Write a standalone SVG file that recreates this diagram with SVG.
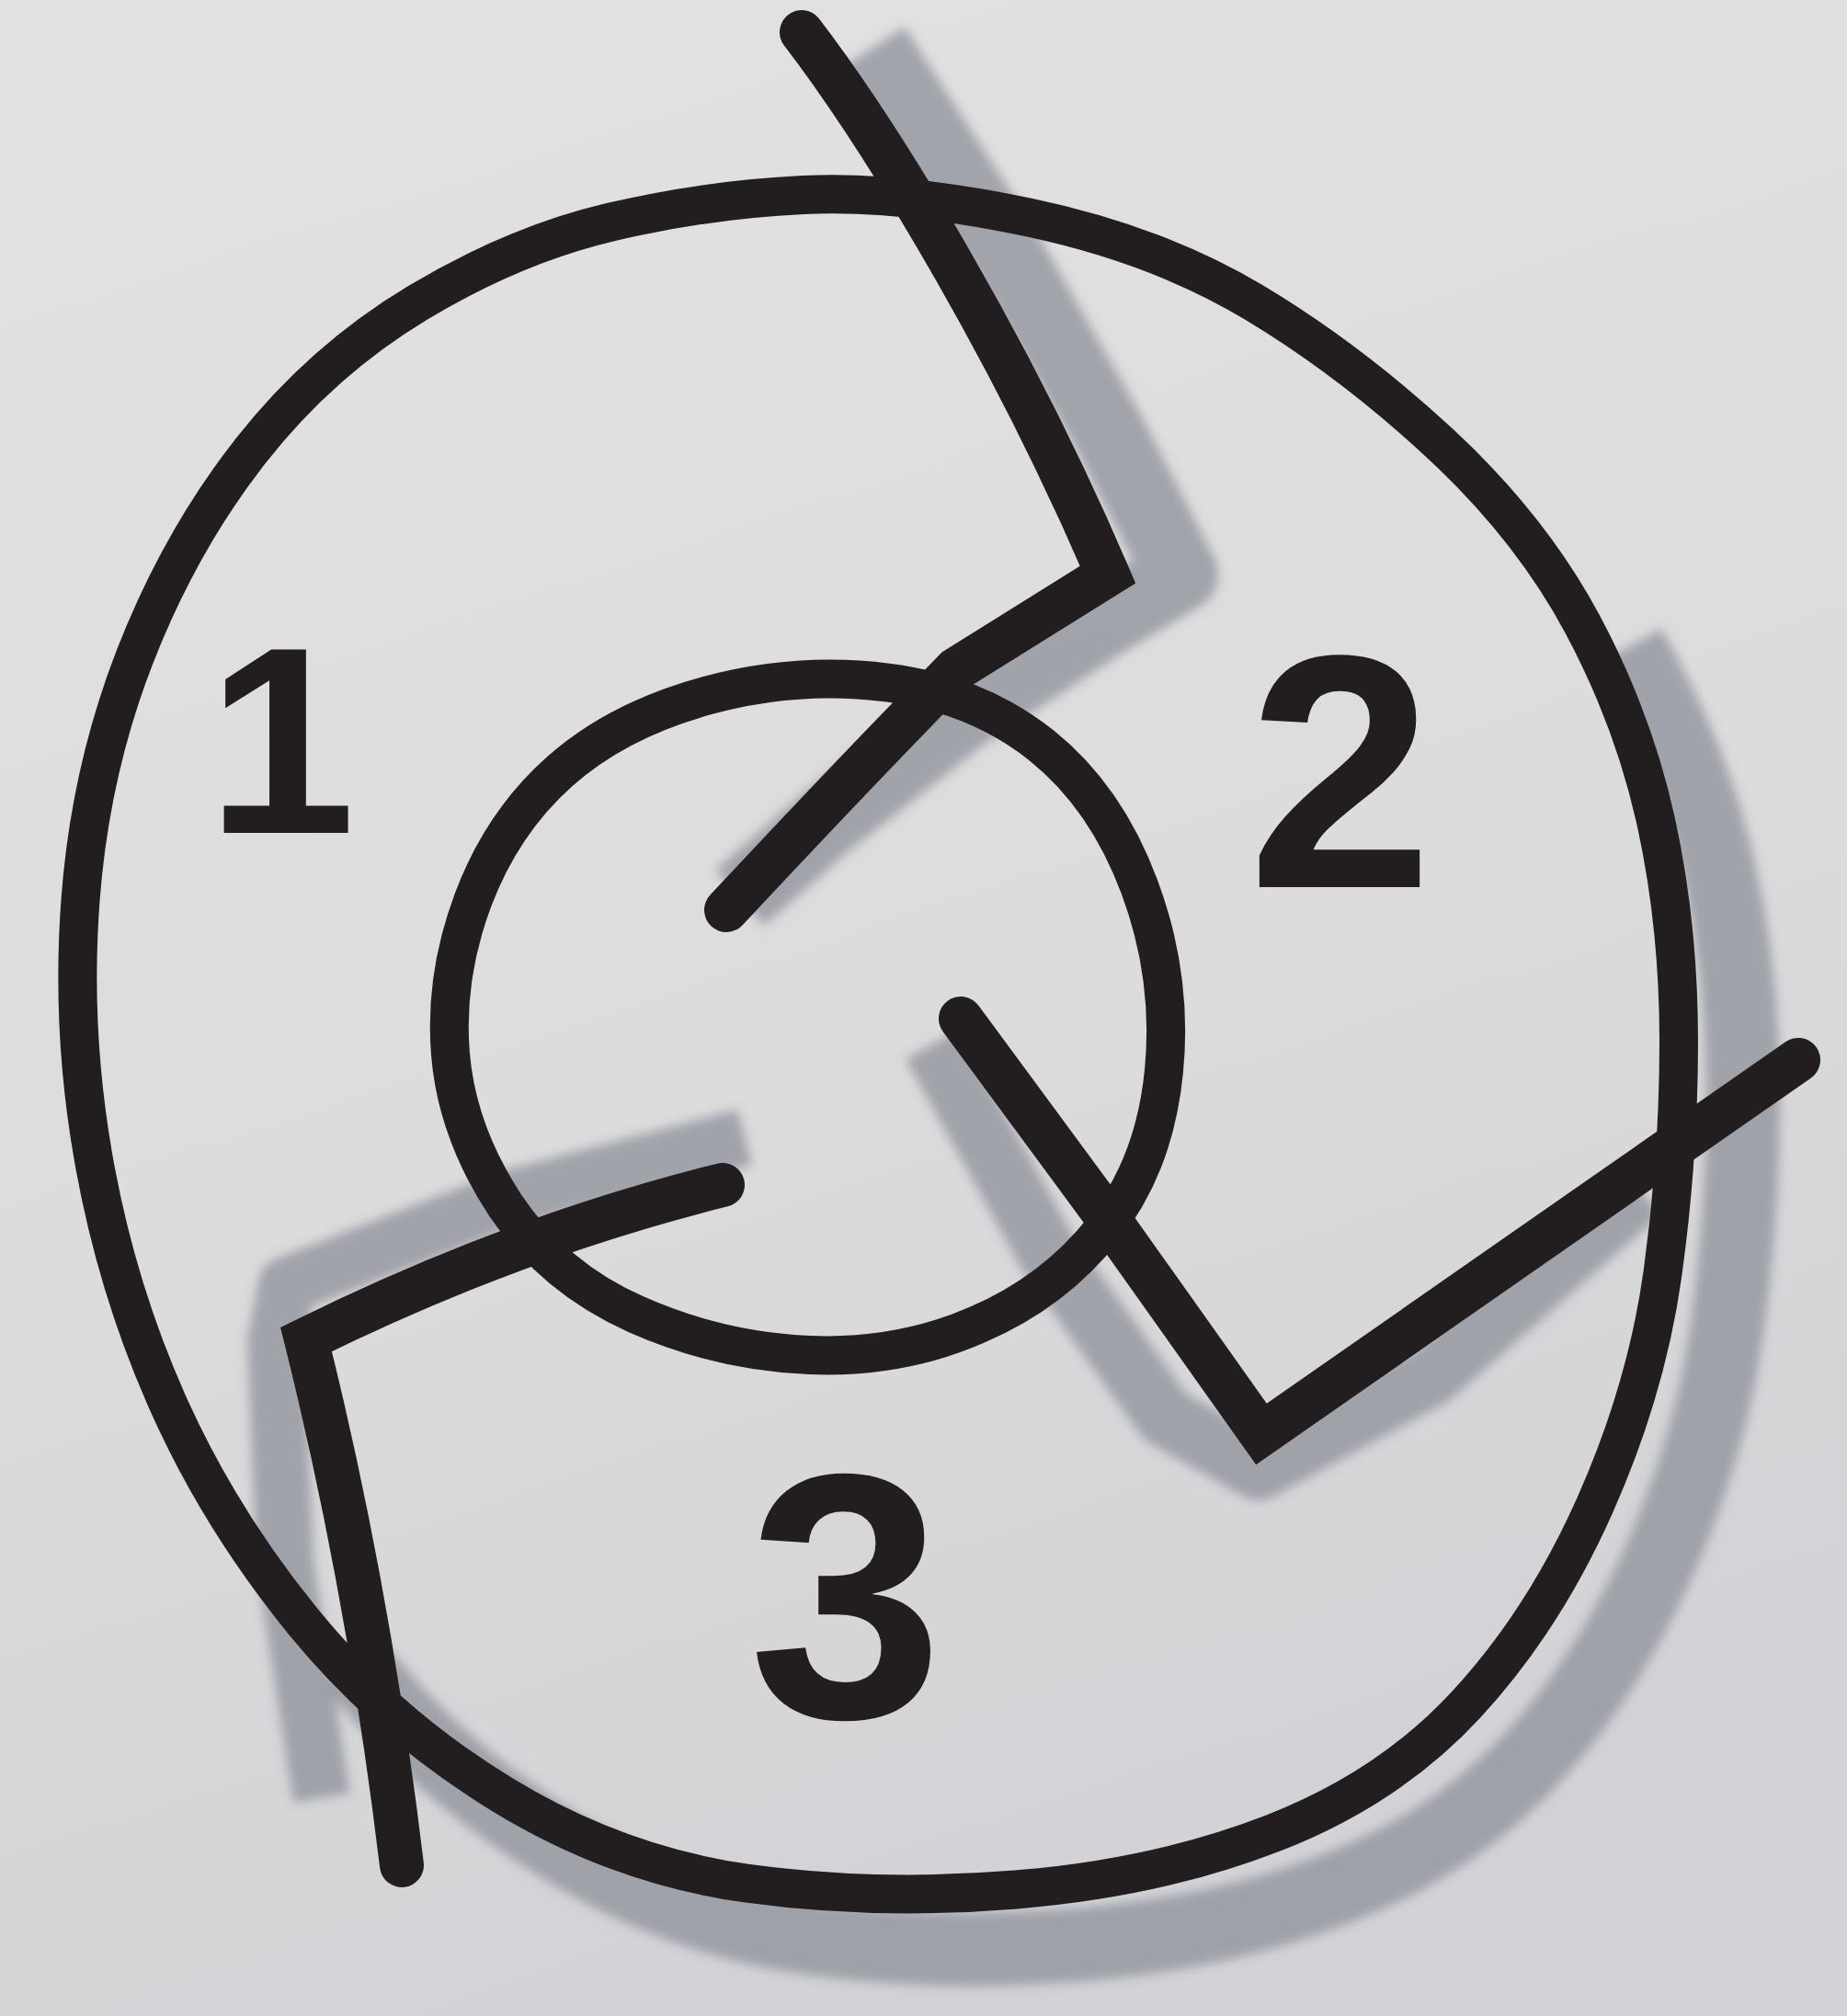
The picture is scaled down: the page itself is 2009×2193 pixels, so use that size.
<svg xmlns="http://www.w3.org/2000/svg" width="2009" height="2193" viewBox="0 0 2009 2193">
<defs>
<linearGradient id="paper" x1="0" y1="0" x2="0.3" y2="1">
<stop offset="0" stop-color="#e2e2e2"/>
<stop offset="0.6" stop-color="#dcdcdd"/>
<stop offset="1" stop-color="#d3d3d7"/>
</linearGradient>
<filter id="soft" x="-10%" y="-10%" width="120%" height="120%">
<feGaussianBlur stdDeviation="6"/>
</filter>
<style>
.ink{fill:none;stroke:#221e1f;stroke-linecap:round;stroke-linejoin:miter;stroke-miterlimit:10}
.ring{stroke-width:42}
.div{stroke-width:48}
.shadow{fill:none;stroke:#92959d;stroke-linecap:square;stroke-linejoin:round;opacity:0.8}
.num{font-family:"Liberation Sans",Arial,sans-serif;font-weight:bold;fill:#221e1f;text-anchor:middle}
</style>
</defs>
<rect x="0" y="0" width="2009" height="2193" fill="url(#paper)"/>
<g id="shadows" filter="url(#soft)">
<polyline class="shadow" stroke-width="80" points="972,85 1090,268 1205,469 1285,625 1200,676 1050,775 900,893 835,950"/>
<polyline class="shadow" stroke-width="66" points="1030,1165 1139,1362 1267,1541 1369,1599 1558,1496 1760,1318"/>
<path class="shadow" stroke-width="80" d="M 1791 738.5 Q 1847 843 1871.5 955 Q 1896 1067 1896 1193 Q 1896 1319 1878.5 1445 Q 1861 1571 1805 1697 Q 1749 1823 1665 1914 Q 1581 2005 1455 2054 Q 1329 2103 1175 2115.5 Q 1021 2128 881.5 2108.5 Q 742 2089 616 2012 Q 490 1935 410 1840"/>
<polyline class="shadow" stroke-width="62" points="780,1245 560,1302 312,1398 300,1460 310,1700 345,1925"/>
</g>
<g id="outer-ring">
<path class="ink ring" d="M 874 212 Q 979 207 1119 236.5 Q 1259 266 1364 329 Q 1469 392 1567 483 Q 1665 574 1721 678.5 Q 1777 783 1801.5 895 Q 1826 1007 1826 1133 Q 1826 1259 1808.5 1385 Q 1791 1511 1735 1637 Q 1679 1763 1595 1854 Q 1511 1945 1385 1994 Q 1259 2043 1105 2055.5 Q 951 2068 811.5 2048.5 Q 672 2029 546 1952 Q 420 1875 329 1763 Q 238 1651 182 1525 Q 126 1399 101.5 1259 Q 77 1119 87.5 979 Q 98 839 147 713.5 Q 196 588 273 490 Q 350 392 455 329 Q 560 266 664.5 241.5 Q 769 217 874 212 Z"/>
</g>
<g id="inner-circle">
<path class="ink ring" d="M 769.5 756.5 Q 867 730 965 742.5 Q 1063 755 1133 811 Q 1203 867 1239.5 965 Q 1276 1063 1266 1165 Q 1256 1267 1201 1336 Q 1147 1405 1063 1441 Q 979 1478 881 1474 Q 783 1470 692.5 1430 Q 602 1390 549.5 1311 Q 497 1231 490 1147 Q 483 1063 514.5 979 Q 546 895 609 839 Q 672 783 769.5 756.5 Z"/>
</g>
<g id="connectors">
<path class="ink div" d="M 872 35 C 960 150 1100 380 1205 625 L 1040 728 Q 930 840 790 990"/>
<path class="ink div" d="M 1045 1108 L 1213 1336 L 1372 1560 L 1956 1153"/>
<path class="ink div" d="M 786 1289 Q 560 1345 333 1457 Q 401 1729 437 2029"/>
</g>
<g id="label-1"><text class="num" x="306" y="906" font-size="290">1</text></g>
<g id="label-2"><text class="num" x="1458" y="965" font-size="362">2</text></g>
<g id="label-3"><text class="num" x="920" y="1868" font-size="380">3</text></g>
</svg>
